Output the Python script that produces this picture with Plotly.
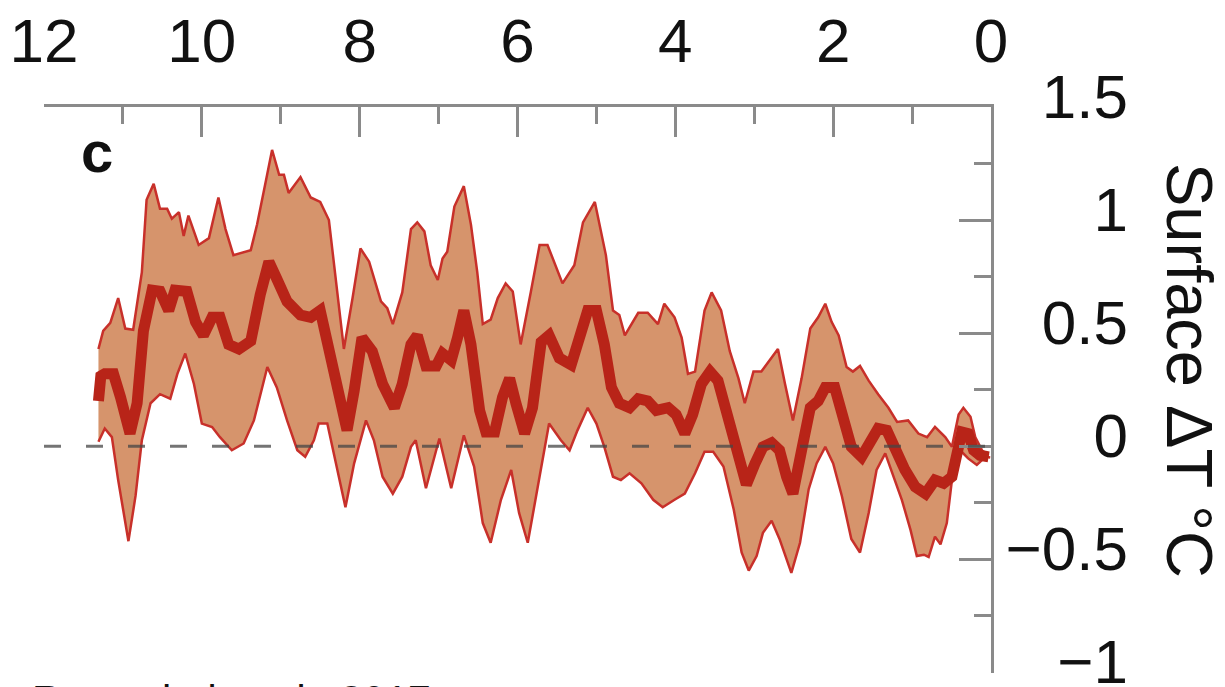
import plotly.graph_objects as go

# ---------------- data ----------------
# age in kyr BP (x), temperature anomaly in deg C (y)
upper_age = [11.31, 11.25, 11.16, 11.06, 10.97, 10.87, 10.76, 10.70, 10.61, 10.53,
             10.44, 10.38, 10.29, 10.23, 10.17, 10.04, 9.91, 9.79, 9.70, 9.60,
             9.38, 9.30, 9.19, 9.11, 9.02, 8.96, 8.90, 8.75, 8.62, 8.50,
             8.39, 8.30, 8.20, 8.09, 7.99, 7.88, 7.73, 7.65, 7.58, 7.46,
             7.35, 7.27, 7.18, 7.10, 7.01, 6.95, 6.89, 6.80, 6.68, 6.59,
             6.51, 6.44, 6.34, 6.25, 6.15, 6.06, 5.96, 5.83, 5.72, 5.62,
             5.43, 5.28, 5.17, 5.02, 4.94, 4.88, 4.79, 4.71, 4.64, 4.47,
             4.35, 4.22, 4.14, 4.01, 3.92, 3.84, 3.75, 3.63, 3.54, 3.42,
             3.31, 3.20, 3.12, 3.01, 2.91, 2.78, 2.70, 2.61, 2.51, 2.40,
             2.29, 2.19, 2.10, 2.02, 1.93, 1.83, 1.75, 1.66, 1.55, 1.43,
             1.30, 1.19, 1.05, 0.92, 0.81, 0.71, 0.58, 0.495, 0.41, 0.35,
             0.26, 0.20, 0.11, 0.03]
upper_val = [0.43, 0.51, 0.545, 0.655, 0.52, 0.515, 0.77, 1.09, 1.16, 1.05,
             1.05, 1.006, 1.035, 0.93, 1.02, 0.89, 0.92, 1.10, 0.96, 0.845,
             0.867, 0.98, 1.17, 1.31, 1.20, 1.20, 1.12, 1.19, 1.10, 1.08,
             1.00, 0.73, 0.43, 0.655, 0.874, 0.816, 0.64, 0.61, 0.54, 0.68,
             0.96, 0.99, 0.95, 0.80, 0.735, 0.83, 0.86, 1.06, 1.15, 0.98,
             0.77, 0.54, 0.56, 0.655, 0.72, 0.684, 0.45, 0.684, 0.89, 0.89,
             0.72, 0.80, 0.99, 1.08, 0.95, 0.845, 0.60, 0.58, 0.49, 0.59,
             0.59, 0.54, 0.63, 0.57, 0.48, 0.32, 0.33, 0.60, 0.68, 0.60,
             0.42, 0.30, 0.19, 0.33, 0.33, 0.39, 0.43, 0.275, 0.114, 0.30,
             0.52, 0.57, 0.63, 0.55, 0.49, 0.35, 0.33, 0.355, 0.29, 0.23,
             0.17, 0.107, 0.114, 0.056, 0.04, 0.085, 0.04, -0.003, 0.14, 0.17,
             0.13, 0.04, -0.02, -0.04]

mean_age = [11.31, 11.28, 11.23, 11.12, 11.03, 10.91, 10.82, 10.74, 10.63, 10.53,
            10.42, 10.34, 10.19, 10.08, 9.98, 9.87, 9.77, 9.66, 9.53, 9.38,
            9.26, 9.15, 9.05, 8.92, 8.75, 8.62, 8.50, 8.37, 8.24, 8.16,
            8.07, 7.97, 7.84, 7.71, 7.56, 7.46, 7.35, 7.27, 7.16, 7.03,
            6.95, 6.84, 6.76, 6.68, 6.59, 6.48, 6.40, 6.29, 6.19, 6.10,
            6.02, 5.91, 5.81, 5.70, 5.60, 5.47, 5.32, 5.21, 5.11, 5.00,
            4.90, 4.81, 4.71, 4.58, 4.47, 4.35, 4.24, 4.09, 3.99, 3.88,
            3.78, 3.67, 3.56, 3.46, 3.33, 3.20, 3.10, 2.99, 2.89, 2.78,
            2.68, 2.59, 2.51, 2.40, 2.29, 2.19, 2.10, 1.98, 1.87, 1.77,
            1.64, 1.53, 1.43, 1.32, 1.21, 1.09, 0.96, 0.83, 0.71, 0.60,
            0.495, 0.43, 0.37, 0.29, 0.22, 0.14, 0.03]
mean_val = [0.20, 0.31, 0.32, 0.32, 0.216, 0.056, 0.19, 0.51, 0.69, 0.685,
            0.60, 0.69, 0.685, 0.55, 0.49, 0.57, 0.57, 0.45, 0.43, 0.465,
            0.67, 0.816, 0.74, 0.64, 0.58, 0.57, 0.60, 0.39, 0.17, 0.07,
            0.245, 0.48, 0.42, 0.275, 0.17, 0.275, 0.45, 0.49, 0.355, 0.355,
            0.41, 0.38, 0.48, 0.60, 0.45, 0.158, 0.063, 0.063, 0.216, 0.30,
            0.19, 0.056, 0.17, 0.46, 0.49, 0.39, 0.36, 0.48, 0.60, 0.60,
            0.45, 0.26, 0.19, 0.17, 0.21, 0.20, 0.158, 0.17, 0.14, 0.056,
            0.14, 0.275, 0.33, 0.29, 0.13, -0.06, -0.17, -0.076, -0.003, 0.015,
            -0.018, -0.135, -0.21, -0.018, 0.17, 0.20, 0.26, 0.26, 0.13, -0.003,
            -0.047, 0.012, 0.078, 0.07, -0.018, -0.105, -0.18, -0.21, -0.15, -0.164,
            -0.135, -0.003, 0.063, 0.056, -0.018, -0.04, -0.047]

lower_age = [11.31, 11.23, 11.14, 11.06, 10.93, 10.84, 10.76, 10.65, 10.53, 10.40,
             10.31, 10.21, 10.10, 10.00, 9.87, 9.77, 9.62, 9.47, 9.34, 9.17,
             9.05, 8.92, 8.79, 8.69, 8.58, 8.52, 8.41, 8.30, 8.18, 8.07,
             7.92, 7.82, 7.71, 7.58, 7.46, 7.35, 7.29, 7.16, 6.99, 6.84,
             6.68, 6.55, 6.44, 6.34, 6.21, 6.08, 5.98, 5.87, 5.74, 5.60,
             5.45, 5.34, 5.24, 5.11, 5.00, 4.90, 4.79, 4.69, 4.58, 4.43,
             4.28, 4.16, 4.01, 3.88, 3.75, 3.63, 3.52, 3.39, 3.26, 3.16,
             3.07, 2.97, 2.89, 2.78, 2.68, 2.53, 2.42, 2.31, 2.21, 2.10,
             2.00, 1.89, 1.77, 1.66, 1.55, 1.45, 1.34, 1.23, 1.13, 1.02,
             0.94, 0.85, 0.79, 0.71, 0.64, 0.56, 0.47, 0.39, 0.29, 0.18,
             0.07, 0.01]
lower_val = [0.02, 0.078, 0.04, -0.15, -0.42, -0.22, 0.026, 0.19, 0.23, 0.21,
             0.32, 0.41, 0.275, 0.10, 0.085, 0.04, -0.018, 0.012, 0.114, 0.35,
             0.26, 0.114, -0.018, -0.047, 0.026, 0.10, 0.10, -0.076, -0.27, -0.076,
             0.114, 0.026, -0.135, -0.21, -0.135, -0.003, 0.026, -0.186, 0.034, -0.186,
             0.048, -0.09, -0.34, -0.427, -0.237, -0.105, -0.295, -0.427, -0.164, 0.10,
             0.026, -0.018, 0.07, 0.17, 0.10, -0.003, -0.135, -0.15, -0.12, -0.164,
             -0.237, -0.27, -0.237, -0.21, -0.12, -0.025, -0.025, -0.09, -0.28, -0.47,
             -0.55, -0.486, -0.383, -0.33, -0.41, -0.56, -0.427, -0.19, -0.076, -0.003,
             -0.076, -0.22, -0.41, -0.47, -0.295, -0.105, -0.032, -0.135, -0.237, -0.37,
             -0.486, -0.48, -0.49, -0.40, -0.434, -0.34, -0.076, -0.018, -0.054, -0.083,
             -0.047, -0.05]

x_major = [12, 10, 8, 6, 4, 2, 0]
x_minor = [11, 9, 7, 5, 3, 1]
x_labels = ["12", "10", "8", "6", "4", "2", "0"]
y_major = [1.5, 1, 0.5, 0, -0.5, -1]
y_minor = [1.25, 0.75, 0.25, -0.25, -0.75]
y_labels = ["1.5", "1", "0.5", "0", "\u22120.5", "\u22121"]

# ---------------- styling ----------------
W, H = 1225, 687
ML, MR, MT, MB = 44, 97, 107, 14
plot_w = W - ML - MR
plot_h = H - MT - MB
x_dom_end = (991 - ML) / plot_w
Y_RANGE = [-1.003, 1.5]

AX = "#8a8a8a"
FILL = "#D6946C"
EDGE = "#C8302A"
MEAN = "#B82418"
TXT = "#111111"
FONT = "Liberation Sans, Arial, Helvetica, sans-serif"

fig = go.Figure()

# shaded envelope (upper forward, lower backward)
fig.add_trace(go.Scatter(
    x=upper_age + lower_age[::-1],
    y=upper_val + lower_val[::-1],
    fill="toself", fillcolor=FILL, mode="none",
    hoverinfo="skip", showlegend=False))

fig.add_trace(go.Scatter(x=upper_age, y=upper_val, mode="lines",
                         line=dict(color=EDGE, width=2.5), showlegend=False))
fig.add_trace(go.Scatter(x=lower_age, y=lower_val, mode="lines",
                         line=dict(color=EDGE, width=2.5), showlegend=False))
fig.add_trace(go.Scatter(x=mean_age, y=mean_val, mode="lines",
                         line=dict(color=MEAN, width=11), showlegend=False))
# invisible carrier so the label axis (right-aligned tick labels) is drawn
fig.add_trace(go.Scatter(x=mean_age, y=mean_val, yaxis="y2", mode="lines",
                         line=dict(color="rgba(0,0,0,0)", width=0),
                         hoverinfo="skip", showlegend=False))

# zero reference line
fig.add_shape(type="line", xref="x", yref="y", x0=12, x1=0, y0=0, y1=0,
              line=dict(color="rgba(70,70,70,0.75)", width=3, dash="17px,25px"),
              layer="above")

fig.update_layout(
    width=W, height=H,
    template="none",
    paper_bgcolor="white", plot_bgcolor="white",
    margin=dict(l=ML, r=MR, t=MT, b=MB, pad=0),
    font=dict(family=FONT, color=TXT),
    showlegend=False,
    xaxis=dict(
        domain=[0, x_dom_end], range=[12, 0], side="top",
        showline=True, linecolor=AX, linewidth=3,
        ticks="inside", ticklen=30, tickwidth=2.5, tickcolor=AX,
        tickvals=x_major, ticktext=x_labels,
        tickfont=dict(size=62, family=FONT, color=TXT),
        ticklabelstandoff=17,
        minor=dict(tickvals=x_minor, ticks="inside", ticklen=17,
                   tickwidth=2.5, tickcolor=AX, showgrid=False),
        showgrid=False, zeroline=False, automargin=False, mirror=False),
    yaxis=dict(
        domain=[0, 1], range=Y_RANGE, side="right", anchor="x",
        showline=True, linecolor=AX, linewidth=3,
        ticks="inside", ticklen=32, tickwidth=2.5, tickcolor=AX,
        tickvals=y_major, showticklabels=False,
        minor=dict(tickvals=y_minor, ticks="inside", ticklen=17,
                   tickwidth=2.5, tickcolor=AX, showgrid=False),
        showgrid=False, zeroline=False, automargin=False, mirror=False),
    yaxis2=dict(
        overlaying="y", side="left", anchor="free", position=1.0,
        range=Y_RANGE, tickvals=y_major, ticktext=y_labels,
        tickfont=dict(size=62, family=FONT, color=TXT),
        ticklabelshift=-11, ticklabeloverflow="allow",
        showline=False, ticks="", showgrid=False, zeroline=False,
        automargin=False),
)

# axis title (reads top to bottom)
fig.add_annotation(text="Surface \u0394T \u00b0C", xref="paper", yref="paper",
                   x=(1190 - ML) / plot_w, y=(H - MB - 370) / plot_h,
                   xanchor="center", yanchor="middle", textangle=90,
                   showarrow=False, font=dict(size=65, family=FONT, color=TXT))
# panel label
fig.add_annotation(text="<b>c</b>", xref="paper", yref="paper",
                   x=(97 - ML) / plot_w, y=(H - MB - 151) / plot_h,
                   xanchor="center", yanchor="middle", showarrow=False,
                   font=dict(size=58, family=FONT, color=TXT))
# source (cut by the bottom edge, as in the original)
fig.add_annotation(text="Rosenthal et al., 2017", xref="paper", yref="paper",
                   x=(30 - ML) / plot_w, y=0, yshift=-2,
                   xanchor="left", yanchor="top",
                   showarrow=False, font=dict(size=41, family=FONT, color=TXT))

# remove the browser's default page margin so the figure sits at (0, 0)
fig.write_html("out.html",
               config={"displayModeBar": False},
               post_script="document.body.style.margin='0px';"
                           "document.body.style.overflow='hidden';")
